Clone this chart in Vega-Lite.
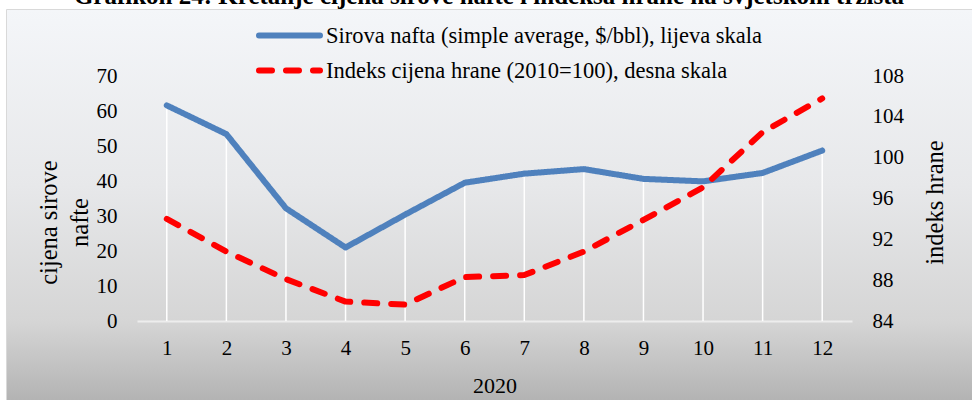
{
  "$schema": "https://vega.github.io/schema/vega-lite/v6.json",
  "autosize": "none",
  "width": 966,
  "height": 391,
  "padding": {"left": 6, "top": 9, "right": 0, "bottom": 0},
  "background": "white",
  "title": {
    "text": "Grafikon 24: Kretanje cijena sirove nafte i indeksa hrane na svjetskom tržišta",
    "font": "Liberation Serif",
    "fontSize": 25,
    "fontWeight": "bold",
    "color": "black",
    "anchor": "middle",
    "offset": 2,
    "dy": 2
  },
  "config": {
    "font": "Liberation Serif",
    "view": {
      "fill": {
        "gradient": "linear",
        "x1": 0, "y1": 0, "x2": 0, "y2": 1,
        "stops": [
          {"offset": 0, "color": "#f4f6f9"},
          {"offset": 0.45, "color": "#e7e8ea"},
          {"offset": 0.8, "color": "#d5d5d5"},
          {"offset": 1, "color": "#b3b3b3"}
        ]
      },
      "stroke": "#d9d9d9"
    },
    "legend": {
      "orient": "none",
      "legendX": 250,
      "legendY": 10,
      "padding": 0,
      "symbolType": "stroke",
      "symbolSize": 3721,
      "symbolStrokeWidth": 6,
      "clipHeight": 33,
      "rowPadding": 2,
      "labelFont": "Liberation Serif",
      "labelFontSize": 22.5,
      "labelColor": "black",
      "labelLimit": 700,
      "labelOffset": 3
    }
  },
  "data": {
    "values": [
      {"month": 1, "series": "Sirova nafta (simple average, $/bbl), lijeva skala", "value": 61.6},
      {"month": 2, "series": "Sirova nafta (simple average, $/bbl), lijeva skala", "value": 53.4},
      {"month": 3, "series": "Sirova nafta (simple average, $/bbl), lijeva skala", "value": 32.2},
      {"month": 4, "series": "Sirova nafta (simple average, $/bbl), lijeva skala", "value": 21.0},
      {"month": 5, "series": "Sirova nafta (simple average, $/bbl), lijeva skala", "value": 30.4},
      {"month": 6, "series": "Sirova nafta (simple average, $/bbl), lijeva skala", "value": 39.5},
      {"month": 7, "series": "Sirova nafta (simple average, $/bbl), lijeva skala", "value": 42.1},
      {"month": 8, "series": "Sirova nafta (simple average, $/bbl), lijeva skala", "value": 43.4},
      {"month": 9, "series": "Sirova nafta (simple average, $/bbl), lijeva skala", "value": 40.6},
      {"month": 10, "series": "Sirova nafta (simple average, $/bbl), lijeva skala", "value": 39.9},
      {"month": 11, "series": "Sirova nafta (simple average, $/bbl), lijeva skala", "value": 42.3},
      {"month": 12, "series": "Sirova nafta (simple average, $/bbl), lijeva skala", "value": 48.7},
      {"month": 1, "series": "Indeks cijena hrane (2010=100), desna skala", "value": 94.0},
      {"month": 2, "series": "Indeks cijena hrane (2010=100), desna skala", "value": 90.8},
      {"month": 3, "series": "Indeks cijena hrane (2010=100), desna skala", "value": 88.1},
      {"month": 4, "series": "Indeks cijena hrane (2010=100), desna skala", "value": 85.9},
      {"month": 5, "series": "Indeks cijena hrane (2010=100), desna skala", "value": 85.6},
      {"month": 6, "series": "Indeks cijena hrane (2010=100), desna skala", "value": 88.3},
      {"month": 7, "series": "Indeks cijena hrane (2010=100), desna skala", "value": 88.5},
      {"month": 8, "series": "Indeks cijena hrane (2010=100), desna skala", "value": 90.8},
      {"month": 9, "series": "Indeks cijena hrane (2010=100), desna skala", "value": 93.9},
      {"month": 10, "series": "Indeks cijena hrane (2010=100), desna skala", "value": 97.1},
      {"month": 11, "series": "Indeks cijena hrane (2010=100), desna skala", "value": 102.5},
      {"month": 12, "series": "Indeks cijena hrane (2010=100), desna skala", "value": 105.8}
    ]
  },
  "encoding": {
    "x": {
      "field": "month",
      "type": "ordinal",
      "scale": {"type": "point", "padding": 0.5, "range": [131, 846]},
      "axis": {
        "title": "2020",
        "titleFont": "Liberation Serif",
        "titleFontSize": 22,
        "titleFontWeight": "normal",
        "titleColor": "black",
        "titleY": 64,
        "titleBaseline": "middle",
        "labelAngle": 0,
        "labelFont": "Liberation Serif",
        "labelFontSize": 21,
        "labelColor": "black",
        "labelPadding": 16,
        "ticks": false,
        "tickSize": 0,
        "domainColor": "#ededed",
        "domainWidth": 2,
        "grid": false,
        "offset": -79
      }
    }
  },
  "layer": [
    {
      "transform": [{"filter": {"field": "series", "equal": "Sirova nafta (simple average, $/bbl), lijeva skala"}}],
      "encoding": {
        "y": {
          "field": "value",
          "type": "quantitative",
          "scale": {"domain": [0, 70], "nice": false, "range": [312, 67]},
          "axis": {
            "orient": "left",
            "offset": -131,
            "values": [0, 10, 20, 30, 40, 50, 60, 70],
            "title": ["cijena sirove", "nafte"],
            "titleFont": "Liberation Serif",
            "titleFontSize": 24.5,
            "titleFontWeight": "normal",
            "titleColor": "black",
            "titleAngle": 270,
            "titleAlign": "center",
            "titleBaseline": "middle",
            "titleLineHeight": 31,
            "titleX": -88,
            "titleY": 213,
            "labelFont": "Liberation Serif",
            "labelFontSize": 21,
            "labelColor": "black",
            "labelPadding": 20,
            "ticks": false,
            "tickSize": 0,
            "domain": false,
            "grid": false
          }
        }
      },
      "layer": [
        {
          "mark": {"type": "rule", "color": "white", "strokeWidth": 1.5},
          "encoding": {"y2": {"datum": 0}}
        },
        {
          "mark": {"type": "line", "strokeWidth": 6, "strokeCap": "round", "strokeJoin": "round"},
          "encoding": {
            "color": {
              "field": "series",
              "type": "nominal",
              "scale": {
                "domain": ["Sirova nafta (simple average, $/bbl), lijeva skala", "Indeks cijena hrane (2010=100), desna skala"],
                "range": ["#4f81bd", "#ff0000"]
              },
              "legend": {"title": null, "encode": {"symbols": {"update": {"strokeCap": {"value": "round"}}}}}
            },
            "strokeDash": {
              "field": "series",
              "type": "nominal",
              "scale": {
                "domain": ["Sirova nafta (simple average, $/bbl), lijeva skala", "Indeks cijena hrane (2010=100), desna skala"],
                "range": [[1, 0], [13, 14]]
              },
              "legend": {"title": null}
            }
          }
        }
      ]
    },
    {
      "transform": [{"filter": {"field": "series", "equal": "Indeks cijena hrane (2010=100), desna skala"}}],
      "mark": {"type": "line", "strokeWidth": 6, "strokeCap": "round", "strokeJoin": "round"},
      "encoding": {
        "y": {
          "field": "value",
          "type": "quantitative",
          "scale": {"domain": [84, 108], "nice": false, "zero": false, "range": [312, 67]},
          "axis": {
            "orient": "right",
            "offset": -120,
            "values": [84, 88, 92, 96, 100, 104, 108],
            "title": "indeks hrane",
            "titleFont": "Liberation Serif",
            "titleFontSize": 24.5,
            "titleFontWeight": "normal",
            "titleColor": "black",
            "titleAngle": 270,
            "titleAlign": "center",
            "titleBaseline": "middle",
            "titleX": 83,
            "titleY": 193,
            "labelFont": "Liberation Serif",
            "labelFontSize": 21,
            "labelColor": "black",
            "labelPadding": 20,
            "ticks": false,
            "tickSize": 0,
            "domain": false,
            "grid": false
          }
        },
        "color": {
          "field": "series",
          "type": "nominal",
          "legend": {"title": null}
        },
        "strokeDash": {
          "field": "series",
          "type": "nominal",
          "legend": {"title": null}
        }
      }
    }
  ],
  "resolve": {"scale": {"y": "independent"}}
}
